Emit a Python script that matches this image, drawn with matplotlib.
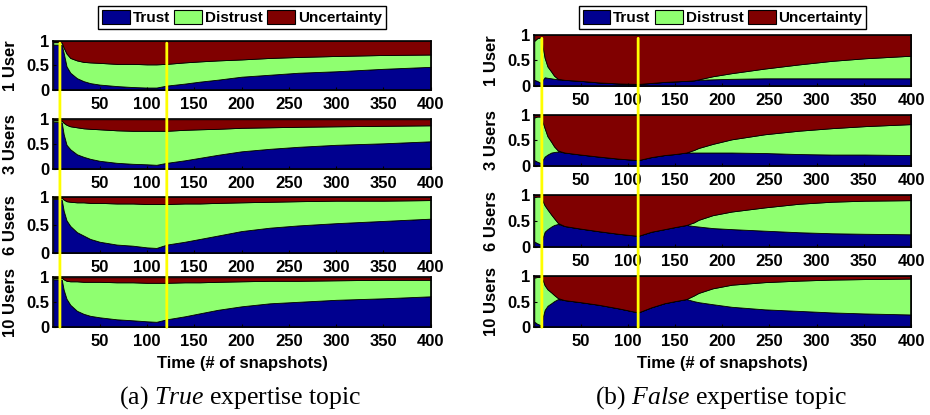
import numpy as np
import matplotlib
matplotlib.use('Agg')
import matplotlib.pyplot as plt
from matplotlib.patches import ConnectionPatch, Patch

plt.rcParams['font.family'] = 'Liberation Sans'
plt.rcParams['font.weight'] = 'bold'
plt.rcParams['axes.labelweight'] = 'bold'
plt.rcParams['mathtext.fontset'] = 'custom'
plt.rcParams['mathtext.rm'] = 'Liberation Serif:normal'
plt.rcParams['mathtext.it'] = 'Liberation Serif:italic:normal'

# ---- data ----
users = ['1 User', '3 Users', '6 Users', '10 Users']
series = ['Trust', 'Distrust', 'Uncertainty']
colors = ['#00008F', '#8FFF70', '#800000']
xticks = [50, 100, 150, 200, 250, 300, 350, 400]

# (a) True expertise topic
x_true = [1, 8, 10, 12, 15, 19, 26, 33, 40, 50, 68, 85, 100, 110, 121, 140, 156, 175, 200, 230, 260, 300, 350, 400]
trust_true = [
    [.92, .92, .91, .75, .48, .35, .24, .18, .14, .11, .08, .06, .05, .05, .09, .13, .17, .21, .27, .31, .35, .38, .43, .47],
    [.95, .95, .93, .70, .49, .40, .30, .25, .21, .17, .13, .11, .10, .09, .13, .18, .23, .29, .36, .41, .45, .49, .52, .56],
    [.96, .96, .94, .75, .58, .48, .37, .31, .25, .20, .15, .13, .10, .09, .15, .20, .25, .31, .39, .45, .49, .53, .57, .61],
    [.96, .96, .95, .75, .57, .45, .33, .27, .23, .20, .16, .14, .12, .11, .16, .22, .28, .35, .42, .48, .51, .55, .58, .62],
]
distrust_true = [
    [.05, .05, .05, .11, .26, .30, .36, .39, .42, .44, .45, .47, .47, .47, .44, .43, .41, .39, .35, .34, .32, .31, .28, .25],
    [.03, .03, .04, .23, .40, .46, .54, .57, .60, .63, .65, .66, .67, .68, .64, .61, .57, .52, .47, .43, .40, .37, .35, .32],
    [.02, .02, .04, .20, .34, .43, .53, .59, .64, .69, .73, .75, .77, .78, .72, .68, .63, .58, .51, .46, .43, .40, .36, .33],
    [.03, .03, .04, .21, .36, .47, .59, .64, .68, .71, .74, .76, .77, .78, .73, .68, .62, .56, .50, .45, .42, .39, .37, .33],
]
marks_true = [8, 121]

# (b) False expertise topic
x_false = [1, 4, 8, 10, 12, 15, 19, 22, 26, 33, 50, 69, 90, 111, 125, 139, 150, 162, 170, 175, 190, 210, 245, 281, 316, 351, 400]
trust_false = [
    [.12, .10, .06, .12, .17, .16, .15, .14, .13, .12, .10, .07, .05, .04, .06, .08, .09, .10, .11, .12, .13, .14, .15, .15, .15, .15, .15],
    [.11, .08, .05, .12, .18, .22, .26, .27, .28, .26, .22, .18, .14, .11, .17, .21, .23, .26, .26, .26, .26, .26, .25, .23, .22, .22, .21],
    [.10, .07, .04, .18, .29, .34, .39, .42, .44, .40, .35, .30, .25, .21, .29, .34, .38, .42, .40, .39, .36, .34, .31, .28, .26, .25, .24],
    [.11, .07, .04, .20, .34, .42, .47, .51, .55, .53, .49, .44, .37, .29, .39, .47, .51, .55, .51, .49, .45, .40, .35, .32, .29, .27, .25],
]
distrust_false = [
    [.76, .83, .89, .63, .38, .22, .13, .06, .01, 0, 0, 0, 0, 0, 0, 0, 0, 0, 0, .01, .06, .11, .19, .27, .34, .39, .44],
    [.84, .89, .92, .73, .56, .36, .21, .11, .02, 0, 0, 0, 0, 0, 0, 0, 0, 0, .05, .09, .17, .26, .37, .46, .52, .56, .61],
    [.86, .90, .93, .70, .51, .38, .23, .13, .02, 0, 0, 0, 0, 0, 0, 0, 0, 0, .07, .13, .25, .34, .45, .55, .61, .64, .66],
    [.86, .91, .94, .72, .48, .32, .21, .12, .02, 0, 0, 0, 0, 0, 0, 0, 0, 0, .11, .18, .31, .43, .53, .59, .64, .67, .70],
]
marks_false = [9, 111]

W, H = 930, 415
fig = plt.figure(figsize=(W / 100, H / 100), dpi=100)


def add_px_axes(x0, x1, top, bottom):
    return fig.add_axes([x0 / W, 1 - bottom / H, (x1 - x0) / W, (bottom - top) / H])


def draw_panel(x, trust, distrust, marks, left, right, rows, mark_top, caption):
    axes = []
    for i, (top, bottom) in enumerate(rows):
        ax = add_px_axes(left, right, top, bottom)
        t = np.array(trust[i])
        d = np.array(distrust[i])
        ax.stackplot(x, t, d, 1 - t - d, colors=colors, edgecolor='k', linewidth=0.6)
        ax.set_xlim(1, 400)
        ax.set_ylim(0, 1)
        ax.set_xticks(xticks)
        ax.set_yticks([0, 0.5, 1])
        ax.set_yticklabels(['0', '0.5', '1'])
        ax.tick_params(labelsize=12, length=2, direction='in', pad=3)
        ax.tick_params(axis='x', pad=5)
        for s in ax.spines.values():
            s.set_linewidth(1.2)
        ax.set_ylabel(users[i], fontsize=12, fontweight='bold')
        ax.yaxis.set_label_coords(-35.5 / (right - left), 0.5)
        axes.append(ax)

    for m in marks:
        line = ConnectionPatch(xyA=(m, mark_top), coordsA=axes[0].transData,
                               xyB=(m, 0), coordsB=axes[-1].transData,
                               color='#FFFF00', linewidth=2, zorder=10)
        fig.add_artist(line)

    cx = (left + right) / 2
    handles = [Patch(facecolor=c, edgecolor='k', linewidth=0.8) for c in colors]
    leg = fig.legend(handles, series, loc='center', bbox_to_anchor=(cx / W, 1 - 17.5 / H),
                     ncol=3, fontsize=11, frameon=True, fancybox=False, edgecolor='k',
                     framealpha=1, handlelength=1.8, handleheight=1.1, handletextpad=0.2,
                     columnspacing=0.3, borderpad=0.25, borderaxespad=0)
    leg.get_frame().set_linewidth(1.0)

    fig.text(cx / W, 1 - 363 / H, 'Time (# of snapshots)', fontsize=12, ha='center', va='center')
    fig.text(cx / W - 0.002, 1 - 398 / H, caption, fontsize=18.5, fontweight='normal',
             family='Liberation Serif', ha='center', va='center')


draw_panel(x_true, trust_true, distrust_true, marks_true, 53.3, 430.7,
           [(40.7, 90), (119.3, 169.3), (196.7, 253), (277.3, 327.3)], 0.95,
           r'(a) $\mathit{True}$ expertise topic')
draw_panel(x_false, trust_false, distrust_false, marks_false, 534.3, 911,
           [(34.7, 86), (115, 165.7), (195, 246.7), (276, 327.3)], 0.93,
           r'(b) $\mathit{False}$ expertise topic')

fig.savefig('out.png', dpi=100)
